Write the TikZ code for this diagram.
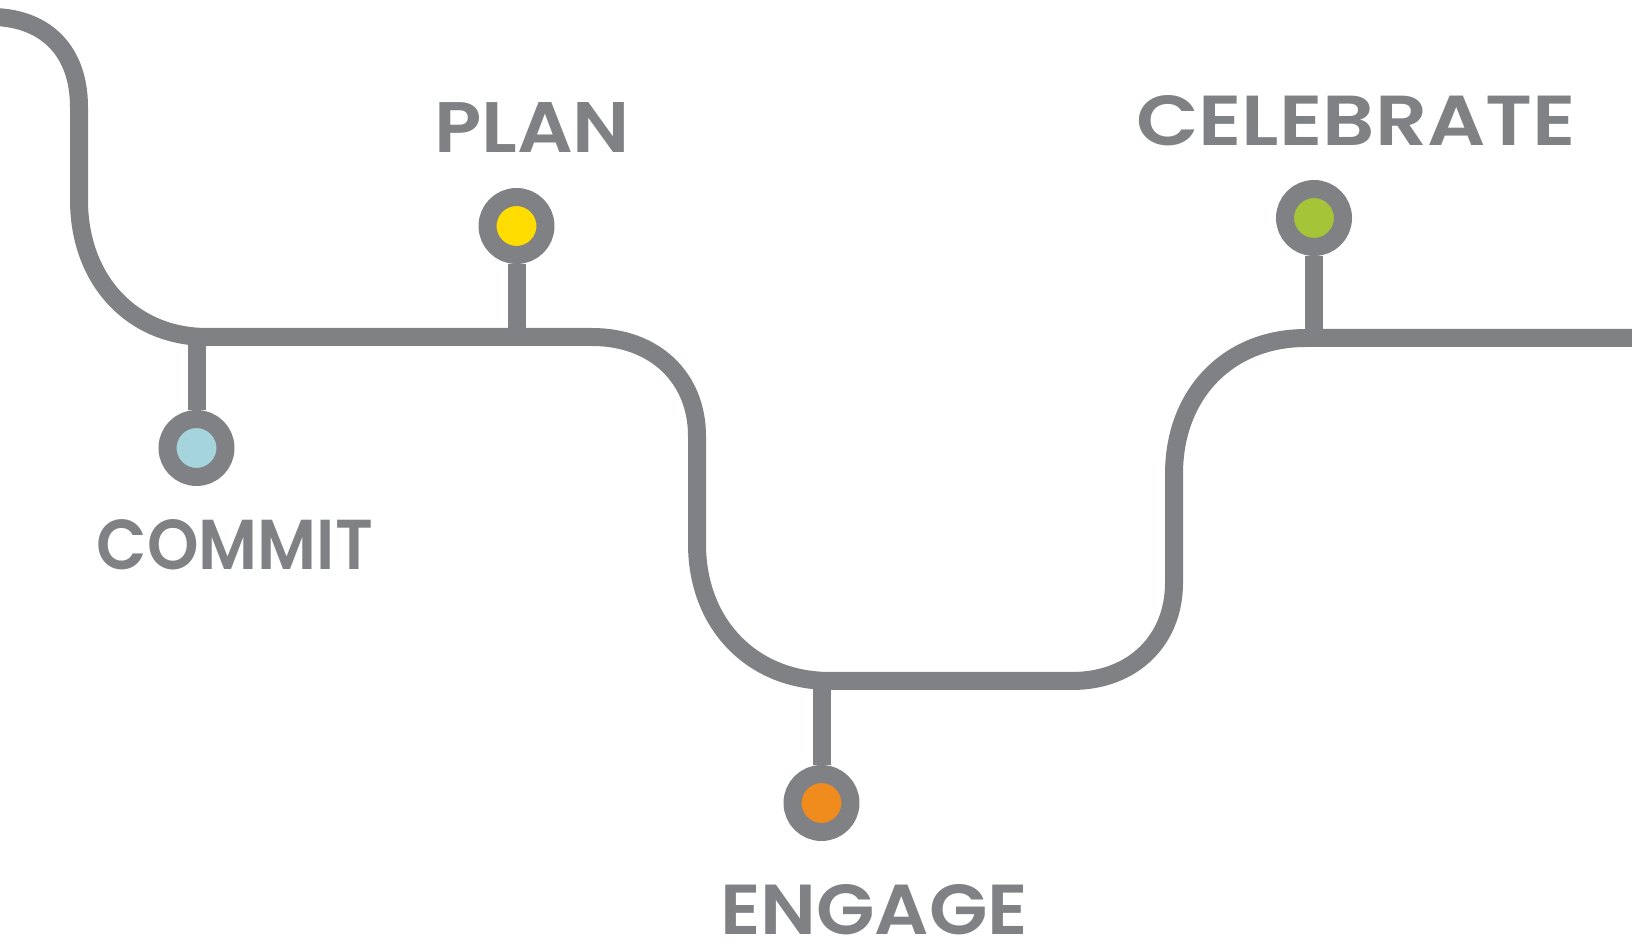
\documentclass[tikz,border=0pt]{standalone}
\usepackage{fontspec}
\setsansfont{Poppins}[BoldFont={* SemiBold}]
\usepackage{graphicx}

\definecolor{roadgray}{RGB}{128,129,133}
\definecolor{commitblue}{RGB}{166,212,221}
\definecolor{planyellow}{RGB}{255,221,0}
\definecolor{engageorange}{RGB}{240,139,30}
\definecolor{celebrategreen}{RGB}{165,196,56}

\begin{document}
\begin{tikzpicture}[
  x=0.1mm,
  y=-0.1mm,
  line join=round,
  road/.style={draw=roadgray, line width=1.8mm},
  stop/.style={circle, draw=roadgray, line width=1.8mm,
    minimum size=5.8mm, inner sep=0pt},
  word/.style={inner sep=0pt, text=roadgray, font=\sffamily\bfseries}
]
  \useasboundingbox (0,0) rectangle (1632,944);

  % Дорога
  \draw[road]
    (-5,17) .. controls (47,19) and (79,52) .. (79,107)
    -- (79,200) .. controls (79,280) and (132,337) .. (207,337)
    -- (592,337) .. controls (655,337) and (697,378) .. (697,436)
    -- (697,544) .. controls (697,624) and (752,681) .. (830,681)
    -- (1072,681) .. controls (1133,681) and (1174,640) .. (1174,583)
    -- (1174,474) .. controls (1174,394) and (1228,338) .. (1306,338)
    -- (1640,338);

  % Точки ответвлений на дороге
  \coordinate (commitJ) at (196.5,337);
  \coordinate (planJ) at (516.5,337);
  \coordinate (engageJ) at (821.5,681);
  \coordinate (celebrateJ) at (1314,338);

  % Остановки
  \node[stop, fill=commitblue] (commit) at (196.5,448) {};
  \node[stop, fill=planyellow] (plan) at (516.5,226) {};
  \node[stop, fill=engageorange] (engage) at (821.5,803) {};
  \node[stop, fill=celebrategreen] (celebrate) at (1314,218) {};

  % Ответвления
  \draw[road] (commitJ) -- (commit);
  \draw[road] (planJ) -- (plan);
  \draw[road] (engageJ) -- (engage);
  \draw[road] (celebrateJ) -- (celebrate);

  % Подписи
  \node[word] (commitL) at (235,545) {\resizebox{27.6mm}{5mm}{COMMIT}};
  \node[word] (planL) at (532,128) {\resizebox{19.6mm}{5mm}{PLAN}};
  \node[word] (engageL) at (874,910) {\resizebox{30.8mm}{5mm}{ENGAGE}};
  \node[word] (celebrateL) at (1356,121) {\resizebox{44mm}{5mm}{CELEBRATE}};
\end{tikzpicture}
\end{document}
